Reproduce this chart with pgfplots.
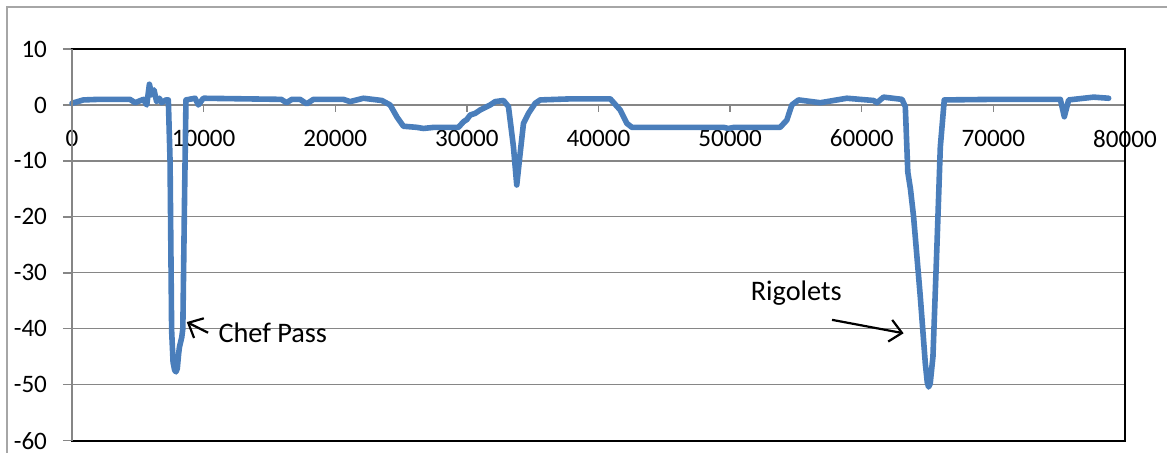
\documentclass[border=0pt]{standalone}
\usepackage{fontspec}
\setmainfont{Carlito}
\usepackage{pgfplots}
\pgfplotsset{compat=1.18}
\usetikzlibrary{arrows.meta}
\definecolor{exblue}{RGB}{74,126,187}
\definecolor{gridgray}{RGB}{134,134,134}
\begin{document}
\begin{tikzpicture}
% x axis through zero, with its labels (drawn first, under the line)
\begin{axis}[at={(0,0)}, anchor=south west, scale only axis,
  width=526.5bp, height=195.85bp,
  xmin=0, xmax=80000, ymin=-60, ymax=10,
  axis x line=middle, axis y line=none,
  axis line style={-, gridgray, line width=0.7bp},
  xtick={0,10000,...,80000}, scaled x ticks=false,
  tick align=outside, major tick length=3.5bp,
  x tick style={gridgray, line width=0.7bp},
  xticklabel style={font=\fontsize{12.6}{14}\selectfont, yshift=-5.5bp},
  /pgf/number format/assume math mode=true,
  /pgf/number format/1000 sep={},
  ]
  \addplot[draw=none] coordinates {(0,0)};
\end{axis}
\begin{axis}[at={(0,0)}, anchor=south west, scale only axis,
  width=526.5bp, height=195.85bp,
  xmin=0, xmax=80000, ymin=-60, ymax=10,
  xtick=\empty, ytick={-60,-50,...,10}, ytick pos=left,
  ymajorgrids, grid style={gridgray, line width=0.6bp},
  axis line style={black, line width=1bp},
  tick align=outside, major tick length=4.5bp,
  y tick style={gridgray, line width=0.7bp},
  yticklabel style={font=\fontsize{12.6}{14}\selectfont, xshift=-4.5bp},
  /pgf/number format/assume math mode=true,
  /pgf/number format/1000 sep={},
  clip=false,
  ]
  \addplot[exblue, line width=2.8bp, line join=round, line cap=round] coordinates {
(0,0.3) (860,0.9) (2000,1.0) (3000,1.0) (4400,1.0) (4800,0.4) (5420,1.0) (5680,0.0)
(5880,3.7) (6060,1.8) (6230,2.7) (6430,0.6) (6640,1.2) (6810,0.4) (7140,0.9) (7320,0.9)
(7450,-10) (7570,-40.3) (7680,-46) (7800,-47.4) (7900,-47.7) (8000,-47.1) (8100,-44.5) (8160,-43.3) (8340,-41.5)
(8420,-40) (8560,-15) (8660,0.9) (9350,1.2) (9600,0.0) (9980,1.2) (15900,1.0) (16300,0.4)
(16700,1.0) (17330,1.0) (17840,0.2) (18340,1.0) (20620,1.0) (21130,0.6) (22140,1.2)
(23540,0.8) (24170,0.0) (24700,-2.2) (25180,-3.8) (26200,-4.0) (26700,-4.2) (27500,-4.0)
(29360,-4.0) (29740,-3.0) (30000,-2.6) (30250,-1.8) (30630,-1.5) (31010,-0.9) (31770,0.0)
(32150,0.6) (32780,0.8) (33160,-0.3) (33540,-7.5) (33790,-14.3) (34050,-8.6) (34300,-3.3)
(34680,-1.5) (35190,0.3) (35570,0.9) (38000,1.1) (40890,1.1) (41650,-0.9) (42160,-3.3)
(42540,-4.0) (46000,-4.0) (49500,-4.0) (49880,-4.2) (50300,-4.0) (53800,-4.0) (54310,-2.7)
(54690,0.0) (55200,0.9) (56850,0.4) (58870,1.2) (60900,0.8) (61150,0.4) (61660,1.4)
(63060,1.0) (63310,-0.3) (63500,-12.0) (63700,-15.0) (63940,-20.0) (64450,-34.3) (64830,-46.2)
(64980,-49.6) (65080,-50.4) (65200,-49.8) (65410,-45.0) (65710,-25.4) (65970,-7.5) (66270,0.9) (70000,1.0)
(75090,1.0) (75390,-2.1) (75720,0.9) (77620,1.4) (78760,1.2)
  };
  \draw[gridgray, line width=1bp] (rel axis cs:0,0) -- (rel axis cs:0,1);
  \node[anchor=west, inner sep=0pt, font=\fontsize{14.2}{16}\selectfont] at (axis cs:11100,-40.7) {Chef Pass};
  \draw[black, line width=1.1bp, -{Straight Barb[length=6bp,width=11bp]}] (axis cs:10340,-40.7) -- (axis cs:8720,-38.8);
  \node[font=\fontsize{14.2}{16}\selectfont, inner sep=0pt] at (axis cs:55020,-33.6) {Rigolets};
  \draw[black, line width=1.1bp, -{Straight Barb[length=6bp,width=11bp]}] (axis cs:57740,-38.4) -- (axis cs:63180,-40.8);
\end{axis}
\draw[gray!70, line width=1bp] (-32.5bp,-10bp) -- (-32.5bp,216.85bp) -- (552bp,216.85bp);
\pgfresetboundingbox
\useasboundingbox (-36bp,-6.15bp) rectangle (547.5bp,220.35bp);
\end{tikzpicture}
\end{document}
